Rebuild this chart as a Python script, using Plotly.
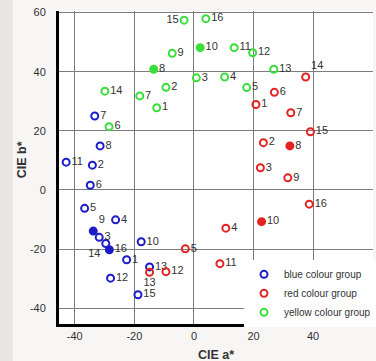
import plotly.graph_objects as go

# ---------------- data ----------------
blue_ids = [1, 2, 3, 4, 5, 6, 7, 8, 9, 10, 11, 12, 13, 14, 15, 16]
blue_a = [-22.6, -34.1, -31.8, -26.3, -36.7, -34.8, -33.3, -31.5, -33.8, -17.7, -42.9, -28.0, -14.9, -29.6, -18.8, -28.4]
blue_b = [-23.6, 8.4, -16.0, -10.1, -6.2, 1.6, 25.0, 14.9, -13.9, -17.5, 9.4, -29.8, -26.0, -18.1, -35.4, -20.2]
blue_filled = [9, 16]

red_ids = [1, 2, 3, 4, 5, 6, 7, 8, 9, 10, 11, 12, 13, 14, 15, 16]
red_a = [20.8, 23.3, 22.3, 10.7, -2.9, 27.0, 32.5, 32.2, 31.5, 22.7, 8.7, -9.4, -14.9, 37.5, 39.1, 38.7]
red_b = [28.9, 16.0, 7.5, -12.9, -19.9, 33.0, 26.1, 14.9, 4.1, -10.7, -24.9, -27.6, -27.8, 38.2, 19.7, -4.8]
red_filled = [8, 10]

yellow_ids = [1, 2, 3, 4, 5, 6, 7, 8, 9, 10, 11, 12, 13, 14, 15, 16]
yellow_a = [-12.5, -9.4, 0.8, 10.3, 17.7, -28.5, -18.2, -13.5, -7.3, 2.1, 13.5, 19.7, 26.8, -29.9, -3.3, 4.0]
yellow_b = [27.8, 34.7, 37.9, 38.2, 34.6, 21.4, 31.8, 40.8, 46.2, 48.1, 48.1, 46.4, 40.8, 33.4, 57.4, 57.9]
yellow_filled = [8, 10]

group_names = ["blue colour group", "red colour group", "yellow colour group"]
tick_vals = [-40, -20, 0, 20, 40, 60]
tick_text = ["-40", "-20", "0", "20", "40", "60"]

# ---------------- style ----------------
FONT = "Liberation Sans, Arial, sans-serif"
label_pos = {
    ("blue", 9): "top right",
    ("blue", 14): "bottom left",
    ("red", 13): "bottom center",
    ("red", 14): "top right",
    ("yellow", 15): "middle left",
}

groups = [
    ("blue", blue_ids, blue_a, blue_b, blue_filled, "#1c1cc8", group_names[0]),
    ("red", red_ids, red_a, red_b, red_filled, "#e32222", group_names[1]),
    ("yellow", yellow_ids, yellow_a, yellow_b, yellow_filled, "#3ade3a", group_names[2]),
]

fig = go.Figure()
for key, ids, a, b, filled, col, name in groups:
    fig.add_trace(go.Scatter(
        x=a, y=b, mode="markers+text", name=name,
        text=[str(i) for i in ids],
        textposition=[label_pos.get((key, i), "middle right") for i in ids],
        textfont=dict(family=FONT, size=11, color="#333333"),
        marker=dict(
            symbol=["circle" if i in filled else "circle-open" for i in ids],
            size=7, color=col, line=dict(width=2, color=col),
        ),
        cliponaxis=False,
    ))

axis_common = dict(
    showgrid=True, gridcolor="#7c7c7c", gridwidth=1, zeroline=False,
    showline=True, linecolor="black", linewidth=3,
    tickmode="array", tickvals=tick_vals, ticktext=tick_text, ticks="",
    tickfont=dict(family=FONT, size=11, color="#333333"),
)

fig.update_layout(
    width=376, height=361,
    margin=dict(l=59, r=0, t=11, b=37),
    paper_bgcolor="#f8f5f5", plot_bgcolor="#ffffff",
    showlegend=True,
    legend=dict(
        x=0.59, y=0.205, xanchor="left", yanchor="top",
        bgcolor="white", borderwidth=0,
        font=dict(family=FONT, size=10, color="#333333"),
        tracegroupgap=0, itemwidth=30,
    ),
    xaxis=dict(range=[-45.3, 60.1], ticklabelstandoff=0, **axis_common),
    yaxis=dict(range=[-45.3, 60.5], ticklabelstandoff=8, **axis_common),
    shapes=[
        dict(type="rect", xref="paper", yref="paper", x0=-0.19, x1=-0.148, y0=-0.2, y1=1.1,
             fillcolor="#e8e5e5", line=dict(width=0), layer="below"),
    ],
    annotations=[
        dict(text="<b>CIE a*</b>", xref="paper", yref="paper", x=0.5, y=-0.098,
             xanchor="center", yanchor="middle", showarrow=False,
             font=dict(family=FONT, size=12.5, color="#333333")),
        dict(text="<b>CIE b*</b>", xref="paper", yref="paper", x=-0.117, y=0.524,
             xanchor="center", yanchor="middle", showarrow=False, textangle=-90,
             font=dict(family=FONT, size=12.5, color="#333333")),
    ],
)

fig.write_html(
    "out.html",
    config={"displayModeBar": False},
    post_script="document.body.style.margin='0px';document.body.style.overflow='hidden';",
)
